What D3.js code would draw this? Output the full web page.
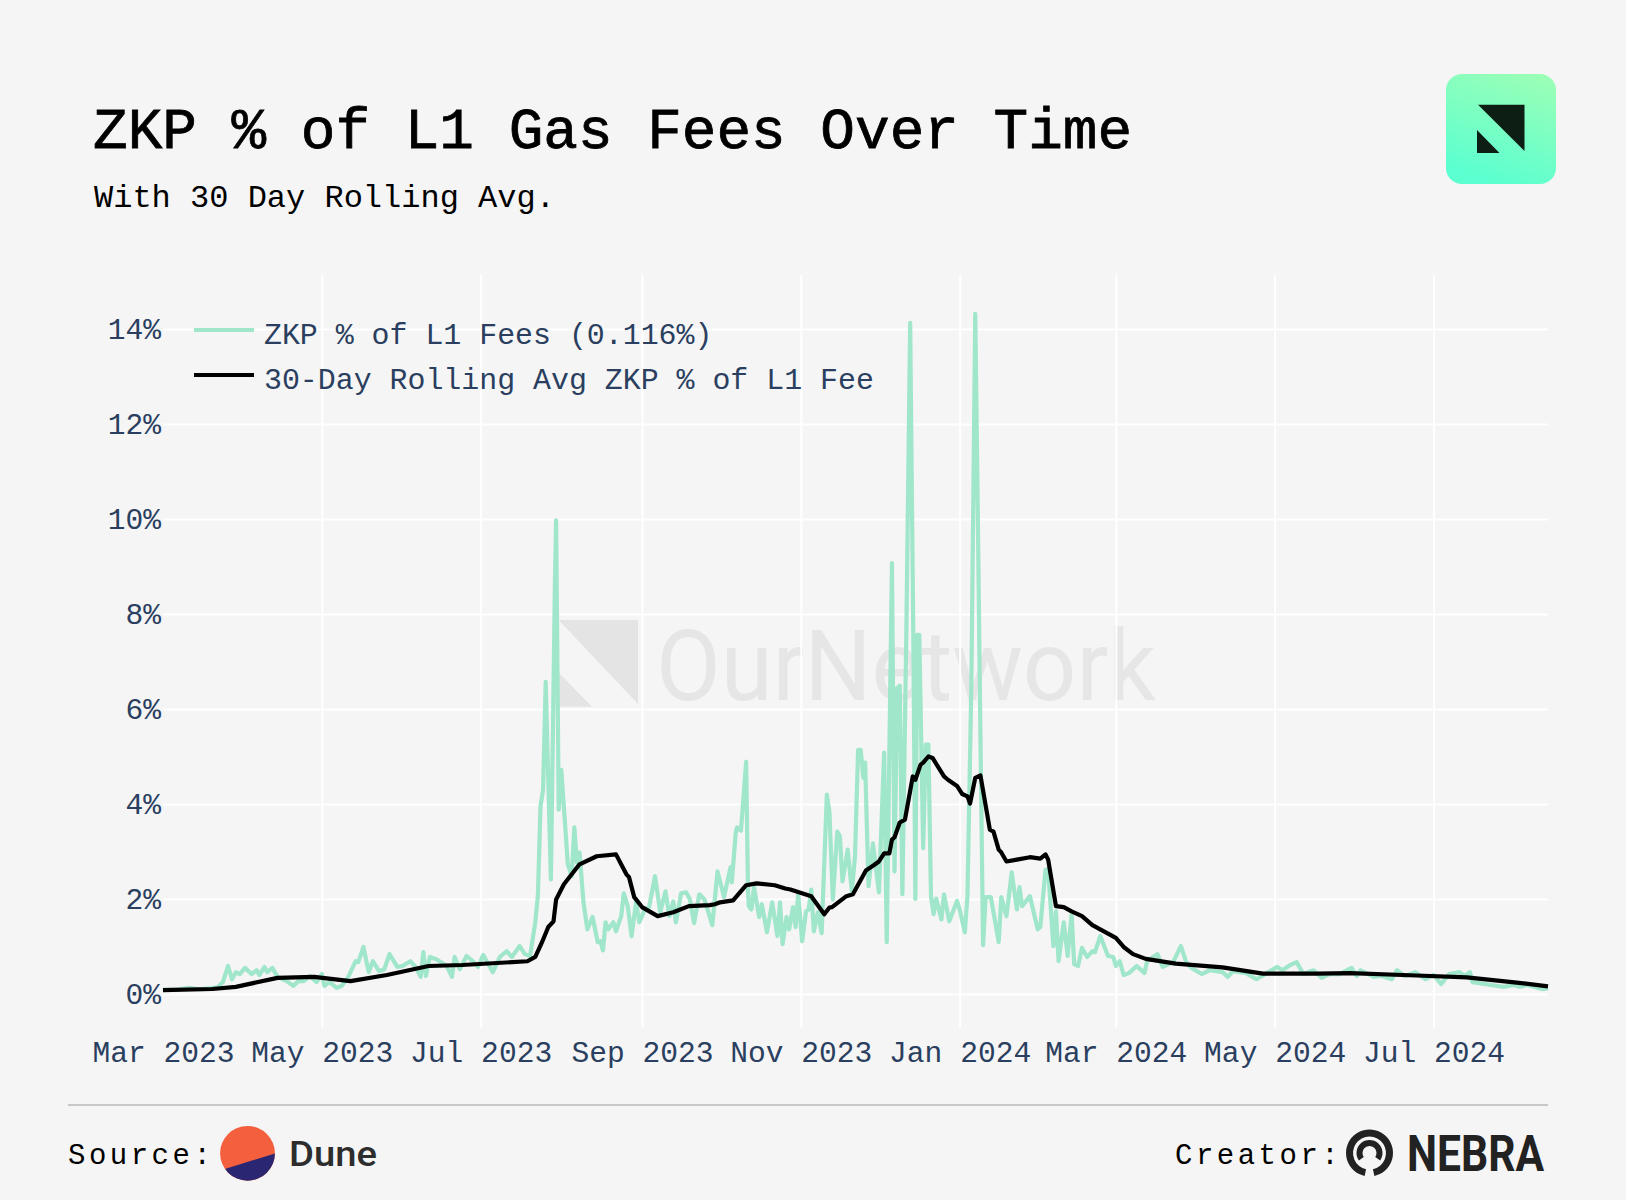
<!DOCTYPE html>
<html>
<head>
<meta charset="utf-8">
<title>ZKP % of L1 Gas Fees Over Time</title>
<script src="https://cdn.jsdelivr.net/npm/d3@7"></script>
<style>
  html, body { margin: 0; padding: 0; background: #f5f5f5; }
  svg { display: block; }
  .mono { font-family: "Liberation Mono", "DejaVu Sans Mono", monospace; }
</style>
</head>
<body>
<svg width="1626" height="1200"></svg>
<script>
// all series are [days since 1 Mar 2023, percent]
var startDate = new Date(2023, 2, 1);

var zkpSeries = [
  [0,0.09],[6,0.1],[10,0.13],[14,0.1],[18,0.12],[21,0.14],[23,0.25],[25,0.59],[26.5,0.31],[28,0.46],[29.5,0.42],[31.5,0.55],
  [34,0.42],[36,0.5],[37,0.4],[39,0.57],[40,0.46],[42,0.55],[44,0.36],[47.5,0.27],[50,0.17],[52,0.27],[54,0.27],[56.5,0.38],
  [59,0.25],[61,0.42],[62,0.17],[64,0.25],[66.7,0.13],[68.6,0.17],[71,0.34],[74,0.69],[75,0.67],[77,0.99],[79,0.46],[80.6,0.69],
  [83,0.48],[85,0.52],[87,0.84],[90,0.57],[92,0.59],[95,0.69],[97,0.57],[99,0.36],[100,0.88],[101,0.38],[102.5,0.78],[105,0.73],
  [109,0.59],[111,0.36],[112,0.78],[114,0.52],[116.6,0.8],[119,0.69],[121,0.57],[123,0.82],[126.7,0.46],[129.4,0.78],[132,0.9],
  [134,0.78],[137,1.01],[139,0.84],[141,0.8],[143,1.51],[144,2.08],[145,3.95],[146,4.3],[147,6.57],[149,2.41],[150.5,8.5],[151,9.97],
  [152,3.88],[153,4.72],[155.5,2.73],[157,2.48],[158,3.51],[159,2.77],[160,2.98],[161.5,1.93],[163,1.36],[165,1.62],[167,1.09],
  [168,1.11],[169,0.92],[170,1.51],[171,1.36],[173,1.51],[174,1.32],[176,1.64],[177,2.12],[178.5,1.85],[180,1.22],[181.7,1.93],
  [183,1.51],[185,1.78],[186.7,1.83],[189,2.48],[191,1.72],[193,2.16],[194.5,1.64],[196,1.95],[197,1.51],[199,2.12],[201,2.14],
  [202.4,1.99],[204,1.49],[206,2.1],[208,1.99],[211,1.45],[213,2.58],[215.5,2.04],[218,2.67],[218.5,2.35],[220,3.4],[220.5,3.51],
  [222,3.44],[224,4.89],[224.7,2.2],[225,1.85],[226,1.78],[227,2.25],[229,1.62],[230,1.89],[232,1.3],[234,1.93],[236,1.22],[237,1.93],
  [238,1.05],[239.5,1.62],[240.5,1.36],[242,1.83],[243,1.41],[244,2.1],[245.5,1.11],[247,1.74],[248,1.78],[249,2.2],[250,1.32],
  [251.5,1.72],[253,1.28],[255,4.2],[256,3.82],[257.3,1.99],[259,3.42],[260,3.32],[261,2.37],[263,3.04],[264.6,2.16],[265.8,2.9],
  [267,5.14],[268,5.14],[269,4.55],[269.7,4.87],[271,2.27],[272.7,3.17],[275,2.14],[277,5.08],[278,1.09],[280,9.07],[281,2.58],
  [282,6.44],[283,6.49],[284,2.1],[285.5,7.5],[287,14.13],[288.3,7],[289,2],[289.7,7.56],[290.5,7.56],[292,3.07],[293,5.25],[294,5.25],
  [295,2.06],[296,1.68],[297,2.01],[299,1.57],[300,2.1],[302,1.53],[305,1.96],[306,1.78],[308,1.3],[309,2.06],[310.5,6.5],[312,14.32],
  [313,10],[314,5.4],[315,1.03],[316,2.04],[318,2.04],[321,1.09],[322,2.04],[324,1.64],[326,2.56],[328,1.78],[329,2.25],[330,1.85],
  [333,2.06],[336,1.36],[337,1.41],[339,2.62],[340,2.62],[342,1.01],[343,1.74],[344,0.69],[346,1.51],[347.5,0.8],[349,1.68],[350,0.63],
  [351.5,0.59],[353,0.97],[355,0.78],[357,0.9],[358,0.88],[360,1.22],[363,0.8],[365,0.78],[366,0.59],[367.5,0.69],[369,0.4],[371,0.44],
  [374,0.59],[377,0.44],[378,0.69],[382,0.84],[384,0.57],[388,0.67],[391,1.01],[393,0.67],[395,0.55],[399,0.42],[402,0.5],[407,0.46],
  [409,0.36],[411,0.48],[416,0.44],[420,0.31],[424,0.44],[428,0.57],[430,0.5],[433,0.61],[435.5,0.67],[438,0.42],[442,0.5],[445,0.34],
  [448,0.42],[452,0.42],[456.5,0.55],[458.5,0.38],[460,0.5],[465,0.36],[468,0.38],[472,0.31],[474,0.5],[477,0.38],[481,0.46],[485,0.31],
  [488,0.4],[491,0.21],[494,0.42],[498,0.46],[500,0.38],[502,0.46],[503,0.25],[510,0.19],[515,0.15],[519,0.19],[521,0.15],[524,0.19],
  [530,0.1],[532,0.12]
];

var avgSeries = [
  [0,0.08],[19,0.105],[28,0.15],[44,0.34],[58,0.36],[72,0.27],[86,0.4],[102,0.59],[115,0.61],[140,0.69],[143,0.78],[145.5,1.08],
  [148,1.41],[150,1.53],[151,1.99],[154,2.31],[160,2.73],[166.6,2.9],[174,2.94],[178,2.52],[179,2.46],[181,2.04],[184,1.83],[190,1.64],
  [196,1.72],[202,1.85],[210,1.87],[212,1.89],[214,1.93],[219,1.97],[224,2.29],[228,2.33],[235,2.29],[239,2.22],[241,2.2],[249,2.06],
  [254,1.68],[256,1.82],[257,1.83],[262.5,2.06],[265,2.1],[270,2.6],[273,2.71],[275,2.79],[277,2.96],[279,2.96],[280,3.25],[281,3.3],
  [283,3.61],[285,3.67],[288,4.58],[289,4.51],[291,4.83],[292,4.87],[294,5],[295.6,4.97],[300,4.58],[301.5,4.51],[305,4.38],[307,4.21],
  [309,4.16],[310,4.01],[312,4.55],[314,4.6],[317.6,3.46],[319,3.42],[321,3.04],[322,2.98],[324,2.79],[328,2.83],[333,2.88],[337,2.85],
  [339,2.94],[340,2.83],[343,1.85],[346,1.83],[349,1.74],[353,1.64],[357,1.45],[366,1.18],[369,0.99],[372.6,0.84],[377.5,0.74],[389,0.64],
  [407,0.56],[422.5,0.43],[443,0.43],[456,0.44],[481.5,0.39],[500.8,0.35],[520,0.24],[532,0.16]
];

var yTicks = [0, 2, 4, 6, 8, 10, 12, 14];
var xTicks = [[2023,2],[2023,4],[2023,6],[2023,8],[2023,10],[2024,0],[2024,2],[2024,4],[2024,6]];
var legendLabels = ["ZKP % of L1 Fees (0.116%)", "30-Day Rolling Avg ZKP % of L1 Fee"];

var mint = "#a0e6cb", navy = "#2a3f5f";
var toDate = function (d) { return new Date(startDate.getTime() + d * 864e5); };

var svg = d3.select("svg");
var scX = d3.scaleTime().domain([startDate, toDate(532)]).range([163, 1548]);
var scY = d3.scaleLinear().domain([0, 14]).range([994, 329]);

// header
svg.append("text").attr("class", "mono").attr("x", 93).attr("y", 148)
  .attr("font-size", 57.72).attr("fill", "#000").attr("stroke", "#000").attr("stroke-width", 0.8)
  .text("ZKP % of L1 Gas Fees Over Time");
svg.append("text").attr("class", "mono").attr("x", 94).attr("y", 207)
  .attr("font-size", 32).attr("fill", "#000")
  .text("With 30 Day Rolling Avg.");

// logo, top right
var grad = svg.append("defs").append("linearGradient").attr("id", "logoGrad")
  .attr("x1", "85%").attr("y1", "0%").attr("x2", "50%").attr("y2", "100%");
grad.append("stop").attr("offset", "0%").attr("stop-color", "#9bffb6");
grad.append("stop").attr("offset", "100%").attr("stop-color", "#5cffd0");
svg.append("rect").attr("x", 1446).attr("y", 74).attr("width", 110).attr("height", 110)
  .attr("rx", 16).attr("fill", "url(#logoGrad)");
svg.append("path").attr("d", "M1478,104.7H1524.5V151Z M1477,130V153H1499.5Z").attr("fill", "#0d1f14");

// watermark sits under the grid and lines
svg.append("path").attr("d", "M558.7,620H638V704Z M559,673V706.7H592Z").attr("fill", "#e4e4e4");
svg.append("text").attr("x", 656).attr("y", 700)
  .attr("font-family", "Roboto, sans-serif").attr("font-weight", 400).attr("font-size", 98)
  .attr("textLength", 500).attr("lengthAdjust", "spacingAndGlyphs")
  .attr("fill", "#e6e6e6").text("OurNetwork");

// grid and tick labels come from the axes
var axY = d3.axisLeft(scY).tickValues(yTicks).tickSize(-1385).tickPadding(0)
  .tickFormat(function (d) { return d + "%"; });
var gY = svg.append("g").attr("transform", "translate(163,0)").call(axY);

var axX = d3.axisBottom(scX)
  .tickValues(xTicks.map(function (t) { return new Date(t[0], t[1], 1); }))
  .tickSize(-753).tickFormat(d3.timeFormat("%b %Y"));
var gX = svg.append("g").attr("transform", "translate(0,1028)").call(axX);

svg.selectAll(".domain").remove();
svg.selectAll(".tick line").attr("stroke", "#fff").attr("stroke-width", 2);
gX.select(".tick line").remove(); // no gridline on the first month
gY.selectAll("text").attr("class", "mono").attr("font-size", 29.6).attr("fill", navy)
  .attr("x", -2).attr("dy", 9.5).attr("font-family", null);
gX.selectAll("text").attr("class", "mono").attr("font-size", 29.6).attr("fill", navy)
  .attr("y", 34).attr("dy", 0).attr("font-family", null);

// series
var lnMkr = d3.line()
  .x(function (d) { return scX(toDate(d[0])); })
  .y(function (d) { return scY(d[1]); });
svg.append("path").attr("d", lnMkr(zkpSeries)).attr("fill", "none")
  .attr("stroke", mint).attr("stroke-width", 4.2).attr("stroke-linejoin", "round");
svg.append("path").attr("d", lnMkr(avgSeries)).attr("fill", "none")
  .attr("stroke", "#000").attr("stroke-width", 4.2).attr("stroke-linejoin", "round");

// legend
var legend = svg.selectAll(".legend").data(legendLabels).enter().append("g").attr("class", "legend");
legend.append("line").attr("x1", 194).attr("x2", 254)
  .attr("y1", function (d, i) { return 330 + i * 45; })
  .attr("y2", function (d, i) { return 330 + i * 45; })
  .attr("stroke", function (d, i) { return i ? "#000" : mint; }).attr("stroke-width", 4.2);
legend.append("text").attr("class", "mono").attr("x", 264)
  .attr("y", function (d, i) { return 344 + i * 45; })
  .attr("font-size", 29.9).attr("fill", navy)
  .text(function (d) { return d; });

// footer
svg.append("line").attr("x1", 68).attr("x2", 1548).attr("y1", 1105).attr("y2", 1105)
  .attr("stroke", "#c8c8c8").attr("stroke-width", 2);
svg.append("text").attr("class", "mono").attr("x", 68).attr("y", 1164)
  .attr("font-size", 29).attr("letter-spacing", 3.5).attr("fill", "#000").text("Source:");
svg.append("text").attr("class", "mono").attr("x", 1175).attr("y", 1164)
  .attr("font-size", 29).attr("letter-spacing", 3.5).attr("fill", "#000").text("Creator:");

// dune mark
svg.select("defs").append("clipPath").attr("id", "duneClip")
  .append("circle").attr("cx", 247.5).attr("cy", 1153.3).attr("r", 27.4);
var dune = svg.append("g").attr("clip-path", "url(#duneClip)");
dune.append("rect").attr("x", 218).attr("y", 1124).attr("width", 60).attr("height", 60).attr("fill", "#f4603e");
dune.append("path").attr("d", "M218,1171L280,1152V1184H218Z").attr("fill", "#2b2672");
svg.append("text").attr("x", 289).attr("y", 1166)
  .attr("font-family", "Roboto, sans-serif").attr("font-weight", 500).attr("font-size", 35)
  .attr("textLength", 88).attr("lengthAdjust", "spacingAndGlyphs")
  .attr("fill", "#2d2d2d").text("Dune");

// nebra mark
var arc = d3.arc();
var deg = Math.PI / 180;
var nebra = svg.append("g").attr("transform", "translate(1369.5,1153)").attr("fill", "#222");
nebra.append("path").attr("d", arc({ innerRadius: 16.5, outerRadius: 23.5, startAngle: -168 * deg, endAngle: 168 * deg }));
nebra.append("path").attr("d", arc({ innerRadius: 7, outerRadius: 13, startAngle: -125 * deg, endAngle: 125 * deg }));
svg.append("text").attr("x", 1407).attr("y", 1171)
  .attr("font-family", "Roboto, sans-serif").attr("font-weight", 700).attr("font-size", 50)
  .attr("textLength", 137).attr("lengthAdjust", "spacingAndGlyphs")
  .attr("fill", "#222").text("NEBRA");
</script>
</body>
</html>
